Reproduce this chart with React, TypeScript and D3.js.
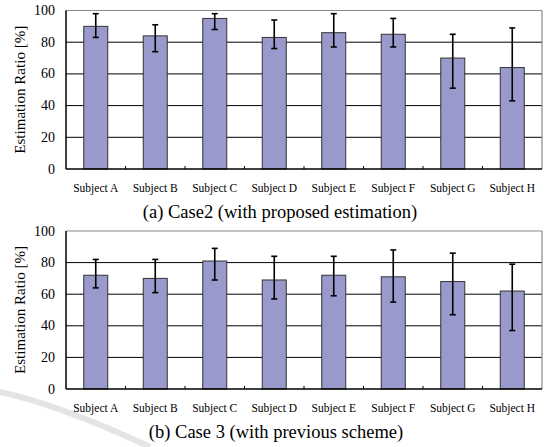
import React from "react";
import * as d3 from "d3";

const categories = ["Subject A", "Subject B", "Subject C", "Subject D", "Subject E", "Subject F", "Subject G", "Subject H"];
const case2Values = [90, 84, 95, 83, 86, 85, 70, 64];
const case2Upper = [98, 91, 98, 94, 98, 95, 85, 89];
const case2Lower = [83, 74, 88, 76, 77, 77, 51, 43];
const case3Values = [72, 70, 81, 69, 72, 71, 68, 62];
const case3Upper = [82, 82, 89, 84, 84, 88, 86, 79];
const case3Lower = [64, 61, 69, 57, 59, 55, 47, 37];
const yTicks = [0, 20, 40, 60, 80, 100];
const captions = ["(a) Case2 (with proposed estimation)", "(b) Case 3 (with previous scheme)"];

const W = 548;
const H = 447;
const LEFT = 66;
const RIGHT = 542;
const SERIF = "'Liberation Serif', 'Times New Roman', serif";

function Panel({ top, bottom, values, upper, lower, caption, captionY, captionX }: any) {
  const x = d3.scaleBand<string>().domain(categories).range([LEFT, RIGHT]).paddingInner(0).paddingOuter(0);
  const y = d3.scaleLinear().domain([0, 100]).range([bottom, top]);
  const bw = 24;
  return (
    <g>
      {yTicks.filter((t) => t > 0 && t < 100).map((t) => (
        <line key={t} x1={LEFT} x2={RIGHT} y1={y(t)} y2={y(t)} stroke="#000" strokeWidth={1} />
      ))}
      <line x1={LEFT} x2={RIGHT} y1={y(100)} y2={y(100)} stroke="#888" strokeWidth={1.2} />
      <line x1={RIGHT} x2={RIGHT} y1={y(100)} y2={y(0)} stroke="#888" strokeWidth={1.2} />
      {categories.map((c, i) => {
        const cx = (x(c) as number) + x.bandwidth() / 2;
        return (
          <rect key={c} x={cx - bw / 2} y={y(values[i])} width={bw} height={y(0) - y(values[i])}
            fill="#9999cc" stroke="#333" strokeWidth={1} />
        );
      })}
      {categories.map((c, i) => {
        const cx = (x(c) as number) + x.bandwidth() / 2;
        return (
          <g key={c} stroke="#000" strokeWidth={1.6}>
            <line x1={cx} x2={cx} y1={y(upper[i])} y2={y(lower[i])} />
            <line x1={cx - 3} x2={cx + 3} y1={y(upper[i])} y2={y(upper[i])} />
            <line x1={cx - 3} x2={cx + 3} y1={y(lower[i])} y2={y(lower[i])} />
          </g>
        );
      })}
      <line x1={LEFT} x2={LEFT} y1={y(100)} y2={y(0)} stroke="#000" strokeWidth={1.5} />
      <line x1={LEFT} x2={RIGHT} y1={y(0)} y2={y(0)} stroke="#000" strokeWidth={1.5} />
      {categories.slice(1).map((c) => (
        <line key={c} x1={x(c) as number} x2={x(c) as number} y1={y(0)} y2={y(0) - 3} stroke="#000" strokeWidth={1} />
      ))}
      {yTicks.map((t) => (
        <text key={t} x={55} y={y(t) + 4.5} textAnchor="end" fontFamily={SERIF} fontSize={14} fill="#000">{t}</text>
      ))}
      {categories.map((c) => (
        <text key={c} x={(x(c) as number) + x.bandwidth() / 2} y={bottom + 23} textAnchor="middle" fontFamily={SERIF} fontSize={11.5} fill="#000">{c}</text>
      ))}
      <text transform={`translate(25,${(top + bottom) / 2}) rotate(-90)`} textAnchor="middle" fontFamily={SERIF} fontSize={14} textLength={128} lengthAdjust="spacingAndGlyphs" fill="#000">Estimation Ratio [%]</text>
      <text x={captionX} y={captionY} textAnchor="middle" fontFamily={SERIF} fontSize={18.5} fill="#000">{caption}</text>
    </g>
  );
}

export default function App() {
  return (
    <svg width={W} height={H} style={{ position: "absolute", left: 0, top: 0, background: "#fff" }}>
      <rect width={W} height={H} fill="#fff" />
      <path d="M 0 392 Q 60 405 150 447" fill="none" stroke="#e4e4e4" strokeWidth={6} />
      <Panel top={10.5} bottom={169} values={case2Values} upper={case2Upper} lower={case2Lower}
        caption={captions[0]} captionY={218} captionX={280} />
      <Panel top={231} bottom={389} values={case3Values} upper={case3Upper} lower={case3Lower}
        caption={captions[1]} captionY={438} captionX={276} />
    </svg>
  );
}
